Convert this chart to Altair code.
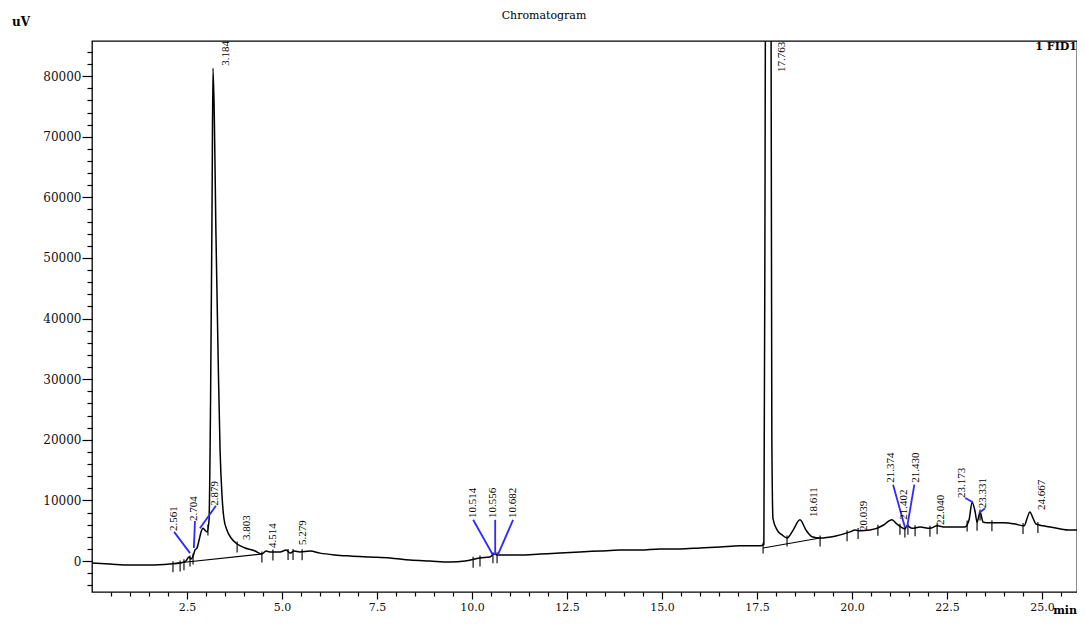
import altair as alt
import numpy as np
import pandas as pd

# ---- chromatogram trace (time in min, signal in uV) ----
trace_t = [0.00, 0.47, 1.00, 1.53, 2.05, 2.32, 2.47, 2.55, 2.61, 2.66, 2.71, 2.76, 2.82, 2.87,
           2.92, 2.97, 3.03, 3.08, 3.12, 3.16, 3.184, 3.22, 3.26, 3.32, 3.37, 3.42, 3.47, 3.55,
           3.66, 3.82, 4.03, 4.29, 4.47, 4.58, 4.68, 4.95, 5.11, 5.21, 5.32, 5.47, 5.74, 6.00,
           6.39, 6.79, 7.32, 7.84, 8.37, 8.89, 9.42, 9.82, 10.21, 10.47, 10.58, 10.68, 10.87,
           11.26, 11.79, 12.32, 12.84, 13.37, 13.89, 14.42, 14.95, 15.47, 16.00, 16.53, 17.05,
           17.58, 17.68, 17.71, 17.74, 17.763, 17.80, 17.87, 17.89, 17.92, 18.03, 18.16, 18.29,
           18.45, 18.63, 18.79, 18.95, 19.16, 19.55, 19.95, 20.08, 20.21, 20.47, 20.82, 20.97,
           21.05, 21.18, 21.29, 21.39, 21.45, 21.58, 21.79, 22.05, 22.24, 22.45, 22.71, 22.97,
           23.08, 23.16, 23.24, 23.29, 23.37, 23.45, 23.63, 23.97, 24.29, 24.53, 24.61, 24.68,
           24.76, 24.84, 25.03, 25.39, 25.74, 25.95]
trace_s = [-330, -495, -660, -660, -495, -330, 0, 660, 330, 825, 1800, 2100, 3500, 4800,
           5400, 5100, 4800, 6800, 26500, 59500, 81300, 72800, 54600, 33200, 18300, 10900, 7100, 5100,
           3800, 2800, 2150, 1650, 1150, 1650, 1500, 1500, 1800, 1300, 1650, 1500, 1650, 1300,
           1000, 825, 660, 500, 165, 0, -165, 0, 500, 660, 1150, 1000, 1000,
           1000, 1150, 1300, 1500, 1650, 1800, 1800, 2000, 2000, 2150, 2300, 2500,
           2500, 2700, 60000, 150000, 200000, 150000, 86000, 20000, 7000, 5100, 4300, 3800,
           5100, 6800, 5100, 4000, 3800, 4100, 4800, 5100, 5000, 5100, 5900, 6600,
           6800, 6100, 5600, 5300, 5800, 5400, 5600, 5400, 5800, 5600, 5600, 5600,
           6800, 9700, 8100, 6400, 8100, 6400, 6300, 6300, 6100, 5800, 7100, 8100,
           7100, 6100, 5800, 5400, 5100, 5100]

# integration baselines
base1_t = [2.13, 4.47]
base1_s = [-400, 1150]
base2_t = [17.66, 19.16]
base2_s = [2150, 3800]

# peak start/end markers
marker_t = [2.13, 2.32, 2.42, 2.58, 2.66, 3.05, 3.82, 4.47, 4.76, 5.16, 5.29, 5.53,
            10.03, 10.21, 10.55, 10.66, 17.66, 18.29, 19.16, 19.87, 20.16, 20.68,
            21.26, 21.39, 21.47, 21.66, 22.05, 22.24, 23.03, 23.29, 23.37, 23.68, 24.50, 24.89]

# peak labels: text, anchor (centre of label foot)
label_text = ["2.561", "2.704", "2.879", "3.184", "3.803", "4.514", "5.279",
              "10.514", "10.556", "10.682", "17.763", "18.611", "20.039",
              "21.374", "21.402", "21.430", "22.040", "23.173", "23.331", "24.667"]
label_t = [2.16, 2.68, 3.24, 3.53, 4.08, 4.76, 5.55,
           10.03, 10.55, 11.08, 18.16, 19.00, 20.32,
           21.03, 21.37, 21.68, 22.34, 22.89, 23.45, 25.00]
label_s = [4950, 6600, 9100, 81700, 3470, 2150, 2640,
           7100, 7100, 7100, 80700, 7260, 4950,
           12900, 6800, 12900, 5940, 10400, 8700, 8400]

# blue leader lines from label to peak
lead_t0 = [2.16, 2.71, 3.26, 10.03, 10.61, 11.08, 21.08, 21.64, 22.98, 23.50]
lead_s0 = [4800, 6600, 9100, 6800, 6800, 6800, 12600, 12600, 10400, 8700]
lead_t1 = [2.58, 2.68, 2.84, 10.55, 10.61, 10.68, 21.39, 21.45, 23.18, 23.34]
lead_s1 = [1300, 2150, 5400, 1000, 1000, 1000, 5600, 5600, 9700, 7900]

# ---- tables ----
trace = pd.DataFrame({"t": trace_t, "s": trace_s})
base = pd.concat([
    pd.DataFrame({"t": base1_t, "s": base1_s, "g": "b1"}),
    pd.DataFrame({"t": base2_t, "s": base2_s, "g": "b2"}),
])
markers = pd.DataFrame({"t": marker_t, "s": np.interp(marker_t, trace_t, trace_s)})
labels = pd.DataFrame({"text": label_text, "t": label_t, "s": label_s})
leads = pd.DataFrame({"t0": lead_t0, "s0": lead_s0, "t1": lead_t1, "s1": lead_s1})

FONT = "Liberation Serif"
AFONT = "DejaVu Serif"
XMAX = 25.92
YMIN, YMAX = -5115, 85800

x_ticks = [round(0.5 * i, 1) for i in range(1, 52)]
y_ticks = list(range(-4000, 86000, 2000))

xscale = alt.Scale(domain=[0, XMAX], nice=False, zero=False)
yscale = alt.Scale(domain=[YMIN, YMAX], nice=False, zero=False)

xaxis = alt.Axis(
    values=x_ticks, tickCount=200, title=None, grid=False, domain=False, labelOverlap=False,
    labelExpr="(datum.value % 2.5 === 0) ? format(datum.value, '.1f') : ''",
    tickSize={"condition": {"test": "datum.value % 2.5 === 0", "value": 7}, "value": 4},
    tickColor="black", tickWidth=1.2, labelFont=AFONT, labelFontSize=11, labelColor="#111",
    labelPadding=2, labelFlush=False,
)
yaxis = alt.Axis(
    values=y_ticks, tickCount=200, title=None, grid=False, domain=False, labelOverlap=False,
    labelExpr="(datum.value % 10000 === 0 && datum.value >= 0) ? format(datum.value, 'd') : ''",
    tickSize={"condition": {"test": "datum.value % 10000 === 0", "value": 10}, "value": 5},
    tickColor="black", tickWidth=1.2, labelFont=AFONT, labelFontSize=12, labelColor="#111",
    labelPadding=1, labelFlush=False,
)

line = alt.Chart(trace).mark_line(color="black", strokeWidth=1.5, clip=True,
                                  interpolate="monotone").encode(
    x=alt.X("t:Q", scale=xscale, axis=xaxis),
    y=alt.Y("s:Q", scale=yscale, axis=yaxis),
)

baselines = alt.Chart(base).mark_line(color="black", strokeWidth=1.1, clip=True).encode(
    x=alt.X("t:Q", scale=xscale), y=alt.Y("s:Q", scale=yscale), detail="g:N"
)

ticks = alt.Chart(markers).mark_tick(color="black", orient="vertical", size=11,
                                     thickness=1.6, yOffset=3, clip=True).encode(
    x=alt.X("t:Q", scale=xscale), y=alt.Y("s:Q", scale=yscale)
)

leaders = alt.Chart(leads).mark_rule(color="#2b2bff", strokeWidth=1.8).encode(
    x=alt.X("t0:Q", scale=xscale), y=alt.Y("s0:Q", scale=yscale),
    x2="t1:Q", y2="s1:Q",
)

peak_labels = alt.Chart(labels).mark_text(angle=270, align="left", baseline="middle",
                                          font=FONT, fontSize=11, color="black").encode(
    x=alt.X("t:Q", scale=xscale), y=alt.Y("s:Q", scale=yscale), text="text:N"
)

annot = pd.DataFrame({"k": ["title", "unit", "det", "xunit"],
                      "txt": ["Chromatogram", "uV", "1 FID1", "min"]})


def note(key, x, y, align, size, weight="normal", baseline="middle"):
    return alt.Chart(annot).transform_filter(alt.datum.k == key).mark_text(
        align=align, baseline=baseline, font=AFONT, fontSize=size, fontWeight=weight,
        color="black"
    ).encode(x=alt.value(x), y=alt.value(y), text="txt:N")


chart = alt.layer(
    line, baselines, ticks, leaders, peak_labels,
    note("title", 452, -31, "center", 11, baseline="top"),
    note("unit", -80, -19, "left", 12, "bold"),
    note("det", 985, 6, "right", 11, "bold"),
    note("xunit", 985, 570, "right", 11, "bold"),
).properties(
    width=985, height=551,
    padding={"left": 84, "top": 33, "right": 0, "bottom": 24},
    autosize=alt.AutoSizeParams(type="none"),
).configure_view(stroke="black", strokeWidth=1.3)

chart.save("out.html", embed_options={"renderer": "svg", "actions": False})
